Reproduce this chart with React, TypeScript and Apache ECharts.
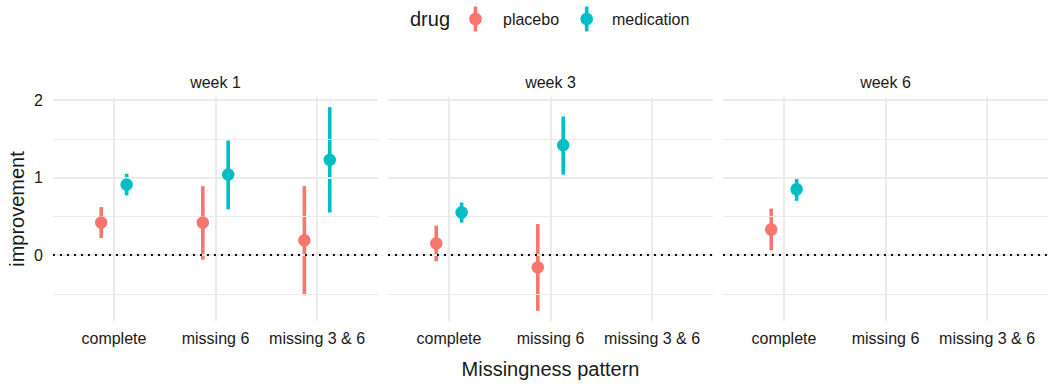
import React, { useEffect, useRef } from "react";
import * as echarts from "echarts";

const categories = ["complete", "missing 6", "missing 3 & 6"];
const weeks = ["week 1", "week 3", "week 6"];
const drugs = ["placebo", "medication"];

// rows = weeks, columns = categories (null = no data)
const placeboMean = [[0.42, 0.42, 0.19], [0.15, -0.16, null], [0.33, null, null]];
const placeboLow = [[0.22, -0.06, -0.52], [-0.08, -0.72, null], [0.06, null, null]];
const placeboHigh = [[0.62, 0.89, 0.89], [0.38, 0.4, null], [0.6, null, null]];
const medicationMean = [[0.91, 1.04, 1.23], [0.55, 1.42, null], [0.85, null, null]];
const medicationLow = [[0.77, 0.59, 0.55], [0.42, 1.04, null], [0.7, null, null]];
const medicationHigh = [[1.05, 1.48, 1.91], [0.68, 1.79, null], [0.99, null, null]];

const yTickValues = [0, 1, 2];
const yMinorValues = [-0.5, 0.5, 1.5];
const xBreaks = [1, 2, 3];

const COLORS = ["#F8766D", "#00BFC4"];
const FONT = "'Liberation Sans', Arial, Helvetica, sans-serif";
const TEXT = "#1A1A1A";
const GRID = "#EBEBEB";

export default function App() {
  const ref = useRef<HTMLDivElement>(null);
  useEffect(() => {
    document.body.style.margin = "0";
    if (!ref.current) return;
    const chart = echarts.init(ref.current, null, { renderer: "svg" });

    const lefts = [53, 388, 723];
    const panelW = 325;
    const top = 97;
    const panelH = 224;
    const yMin = -0.8515;
    const yMax = 2.0415;
    const dodge = [-0.125, 0.125];
    const means = [placeboMean, medicationMean];
    const lows = [placeboLow, medicationLow];
    const highs = [placeboHigh, medicationHigh];

    const grids: any[] = [];
    const xAxes: any[] = [];
    const yAxes: any[] = [];
    const series: any[] = [];
    const graphics: any[] = [];

    weeks.forEach((wk, p) => {
      grids.push({ left: lefts[p], top, width: panelW, height: panelH, containLabel: false });
      xAxes.push({
        type: "value",
        gridIndex: p,
        min: 0.4,
        max: 3.6,
        axisLine: { show: false },
        axisTick: { show: false },
        splitLine: { show: false },
        axisLabel: {
          customValues: xBreaks,
          formatter: (v: number) => categories[Math.round(v) - 1] ?? "",
          fontSize: 16,
          fontFamily: FONT,
          color: TEXT,
          margin: 9,
        },
      });
      yAxes.push({
        type: "value",
        gridIndex: p,
        min: yMin,
        max: yMax,
        axisLine: { show: false },
        axisTick: { show: false },
        splitLine: { show: false },
        axisLabel: {
          show: p === 0,
          customValues: yTickValues,
          fontSize: 16,
          fontFamily: FONT,
          color: TEXT,
          margin: 10,
        },
      });

      // grid lines
      const ml: any[] = [];
      yMinorValues.forEach((v) => ml.push({ yAxis: v, lineStyle: { color: GRID, width: 1, type: "solid" } }));
      yTickValues.forEach((v) => ml.push({ yAxis: v, lineStyle: { color: GRID, width: 2, type: "solid" } }));
      xBreaks.forEach((v) => ml.push({ xAxis: v, lineStyle: { color: GRID, width: 2, type: "solid" } }));
      series.push({
        type: "line",
        xAxisIndex: p,
        yAxisIndex: p,
        data: [],
        z: 1,
        markLine: { silent: true, symbol: ["none", "none"], label: { show: false }, data: ml, animation: false },
      });
      // zero reference line
      series.push({
        type: "line",
        xAxisIndex: p,
        yAxisIndex: p,
        data: [],
        z: 2,
        markLine: {
          silent: true,
          symbol: ["none", "none"],
          label: { show: false },
          animation: false,
          data: [{ yAxis: 0, lineStyle: { color: "#000000", width: 1.9, type: [1.9, 5.1] } }],
        },
      });

      drugs.forEach((d, di) => {
        const bars: any[] = [];
        const pts: any[] = [];
        categories.forEach((c, ci) => {
          const m = means[di][p][ci];
          if (m === null) return;
          const x = ci + 1 + dodge[di];
          bars.push([x, lows[di][p][ci], highs[di][p][ci]]);
          pts.push([x, m]);
        });
        series.push({
          name: d,
          type: "custom",
          xAxisIndex: p,
          yAxisIndex: p,
          z: 3,
          encode: { x: 0, y: [1, 2] },
          data: bars,
          renderItem: (params: any, api: any) => {
            const x = api.value(0);
            const a = api.coord([x, api.value(1)]);
            const b = api.coord([x, api.value(2)]);
            return {
              type: "line",
              shape: { x1: a[0], y1: a[1], x2: b[0], y2: b[1] },
              style: { stroke: COLORS[di], lineWidth: 3.6 },
            };
          },
        });
      });
      drugs.forEach((d, di) => {
        const pts: any[] = [];
        categories.forEach((c, ci) => {
          const m = means[di][p][ci];
          if (m === null) return;
          pts.push([ci + 1 + dodge[di], m]);
        });
        series.push({
          name: d,
          type: "scatter",
          xAxisIndex: p,
          yAxisIndex: p,
          z: 10,
          symbol: "circle",
          symbolSize: 12.5,
          itemStyle: { color: COLORS[di], opacity: 1, borderWidth: 0 },
          data: pts,
        });
      });

      graphics.push({
        type: "text",
        x: lefts[p] + panelW / 2,
        y: 82,
        style: { text: wk, font: `16px ${FONT}`, fill: TEXT, textAlign: "center", textVerticalAlign: "middle" },
      });
    });

    // axis titles
    graphics.push({
      type: "text",
      x: (lefts[0] + lefts[2] + panelW) / 2,
      y: 369,
      style: { text: "Missingness pattern", font: `20px ${FONT}`, fill: TEXT, textAlign: "center", textVerticalAlign: "middle" },
    });
    graphics.push({
      type: "text",
      x: 16.5,
      y: top + panelH / 2,
      rotation: Math.PI / 2,
      style: { text: "improvement", font: `20px ${FONT}`, fill: TEXT, textAlign: "center", textVerticalAlign: "middle" },
    });

    // legend
    graphics.push({
      type: "text",
      x: 410,
      y: 19,
      style: { text: "drug", font: `20px ${FONT}`, fill: TEXT, textAlign: "left", textVerticalAlign: "middle" },
    });
    const legendIconX = [475.5, 586.7];
    const legendTextX = [503, 612];
    drugs.forEach((d, di) => {
      graphics.push({
        type: "line",
        shape: { x1: legendIconX[di], y1: 6.5, x2: legendIconX[di], y2: 31.5 },
        style: { stroke: COLORS[di], lineWidth: 3.6 },
      });
      graphics.push({
        type: "circle",
        shape: { cx: legendIconX[di], cy: 19, r: 6.3 },
        style: { fill: COLORS[di] },
      });
      graphics.push({
        type: "text",
        x: legendTextX[di],
        y: 19,
        style: { text: d, font: `16px ${FONT}`, fill: TEXT, textAlign: "left", textVerticalAlign: "middle" },
      });
    });

    chart.setOption({
      animation: false,
      backgroundColor: "#FFFFFF",
      grid: grids,
      xAxis: xAxes,
      yAxis: yAxes,
      series,
      graphic: graphics,
    });
    return () => chart.dispose();
  }, []);
  return <div ref={ref} style={{ width: 1052, height: 384 }} />;
}
